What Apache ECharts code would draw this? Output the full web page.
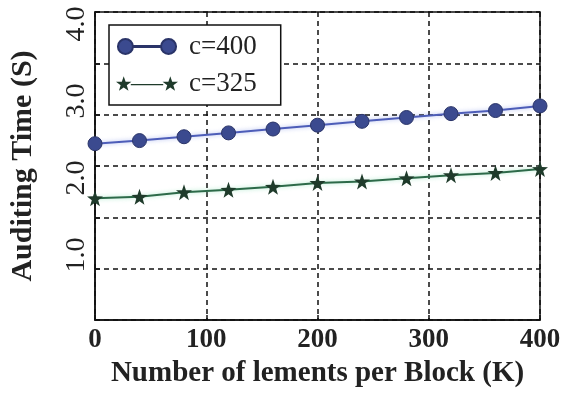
<!DOCTYPE html>
<html>
<head>
<meta charset="utf-8">
<script src="https://cdn.jsdelivr.net/npm/echarts@6/dist/echarts.min.js"></script>
<style>
html,body{margin:0;padding:0;background:#fff;}
#chart{width:571px;height:402px;}
</style>
</head>
<body>
<div id="chart"></div>
<script>
// Data
var xValues = [0, 40, 80, 120, 160, 200, 240, 280, 320, 360, 400];
var seriesNames = ['c=400', 'c=325'];
var c400 = [2.29, 2.33, 2.38, 2.43, 2.48, 2.53, 2.58, 2.63, 2.68, 2.72, 2.78];
var c325 = [1.58, 1.60, 1.66, 1.69, 1.73, 1.78, 1.80, 1.84, 1.88, 1.91, 1.96];
var xTickLabels = ['0', '100', '200', '300', '400'];
var yTickLabels = ['1.0', '2.0', '3.0', '4.0'];
var xTitle = 'Number of lements per Block (K)';
var yTitle = 'Auditing Time (S)';

var FONT = "'Liberation Serif', 'DejaVu Serif', serif";
var starPath = 'path://M8,0 L9.88,5.41 L15.61,5.53 L11.04,8.99 L12.70,14.47 L8,11.2 L3.30,14.47 L4.96,8.99 L0.39,5.53 L6.12,5.41 Z';
var legendCircle = 'path://M0,8 A8,8 0 1,0 16,8 A8,8 0 1,0 0,8 Z M16,7.4 L46,7.4 L46,8.6 L16,8.6 Z M46,8 A8,8 0 1,0 62,8 A8,8 0 1,0 46,8 Z';
var legendStar = 'path://M8,0 L9.88,5.41 L15.61,5.53 L11.04,8.99 L12.70,14.47 L8,11.2 L3.30,14.47 L4.96,8.99 L0.39,5.53 L6.12,5.41 Z M15,7.7 L47,7.7 L47,8.9 L15,8.9 Z M54,0 L55.88,5.41 L61.61,5.53 L57.04,8.99 L58.70,14.47 L54,11.2 L49.30,14.47 L50.96,8.99 L46.39,5.53 L52.12,5.41 Z';

function pairs(vals) {
  return xValues.map(function (x, i) { return [x, vals[i]]; });
}

var chart = echarts.init(document.getElementById('chart'), null, {renderer: 'canvas'});
chart.setOption({
  backgroundColor: '#ffffff',
  animation: false,
  grid: {
    left: 95, right: 31, top: 12, bottom: 82,
    outerBoundsMode: 'none', containLabel: false,
    show: true, borderColor: '#111', borderWidth: 1.5, backgroundColor: 'transparent'
  },
  legend: {
    orient: 'vertical',
    left: 109, top: 25,
    padding: [8, 24, 8, 7],
    itemGap: 10,
    itemWidth: 62, itemHeight: 15,
    backgroundColor: '#fff',
    borderColor: '#111', borderWidth: 1.5, borderRadius: 0,
    textStyle: {fontFamily: FONT, fontSize: 27, color: '#222', padding: [0, 0, 0, 6]},
    data: [
      {name: seriesNames[0], icon: legendCircle, itemStyle: {color: '#3b4a8f'}},
      {name: seriesNames[1], icon: legendStar, itemStyle: {color: '#1f3b2b'}}
    ]
  },
  xAxis: {
    type: 'value', min: 0, max: 400, interval: 100,
    name: xTitle, nameLocation: 'middle', nameGap: 35,
    nameTextStyle: {fontFamily: FONT, fontSize: 29, fontWeight: 'bold', color: '#222'},
    axisLine: {show: true, lineStyle: {color: '#111', width: 1.5}},
    axisTick: {show: true, inside: true, length: 5, lineStyle: {color: '#111', width: 1.5}},
    axisLabel: {
      fontFamily: FONT, fontSize: 27, fontWeight: 'bold', color: '#222', margin: 7,
      formatter: function (v) { var i = xTickLabels.indexOf(String(v)); return i >= 0 ? xTickLabels[i] : ''; }
    },
    splitLine: {show: true, lineStyle: {color: '#111', width: 1.5, type: [5, 4]}}
  },
  yAxis: [
    {
      type: 'value', min: 0, max: 4, interval: 1,
      name: yTitle, nameLocation: 'middle', nameGap: 57, nameRotate: 90,
      nameTextStyle: {fontFamily: FONT, fontSize: 30, fontWeight: 'bold', color: '#222'},
      axisLine: {show: true, lineStyle: {color: '#111', width: 1.5}},
      axisTick: {show: false},
      axisLabel: {
        fontFamily: FONT, fontSize: 28, color: '#222', rotate: 90, margin: 4,
        padding: [0, 24, 0, 0],
        showMinLabel: false,
        formatter: function (v) { var s = v.toFixed(1); return yTickLabels.indexOf(s) >= 0 ? s : ''; }
      },
      splitLine: {show: false}
    },
    {
      type: 'value', min: 0, max: 6, interval: 1, position: 'left',
      axisLine: {show: false},
      axisTick: {show: true, inside: true, length: 5, lineStyle: {color: '#111', width: 1.5}},
      axisLabel: {show: false},
      splitLine: {show: true, lineStyle: {color: '#111', width: 1.5, type: [5, 4]}}
    }
  ],
  series: [
    {
      name: seriesNames[0], type: 'line', yAxisIndex: 0,
      data: pairs(c400),
      symbol: 'circle', symbolSize: 14,
      itemStyle: {color: '#3b4a8f', borderColor: '#2a3468', borderWidth: 1},
      lineStyle: {color: '#4d5db8', width: 2, shadowColor: 'rgba(120,140,230,0.6)', shadowBlur: 4},
      z: 3
    },
    {
      name: seriesNames[1], type: 'line', yAxisIndex: 0,
      data: pairs(c325),
      symbol: starPath, symbolSize: 16,
      itemStyle: {color: '#1f3b2b'},
      lineStyle: {color: '#2d6a49', width: 2, shadowColor: 'rgba(120,220,170,0.6)', shadowBlur: 4},
      z: 3
    }
  ]
});
</script>
</body>
</html>
